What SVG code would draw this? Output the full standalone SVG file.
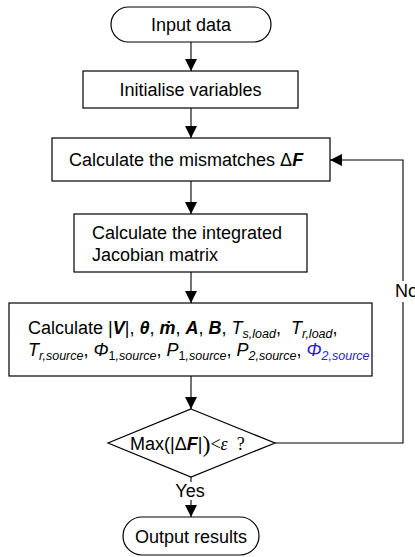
<svg xmlns="http://www.w3.org/2000/svg" width="415" height="557" viewBox="0 0 415 557">
<style>
  .box { fill: #fff; stroke: #000; stroke-width: 1.2; }
  .ln { fill: none; stroke: #000; stroke-width: 1.1; }
  text { font-family: "Liberation Sans", Arial, sans-serif; font-size: 18px; fill: #000; white-space: pre; }
  .c { text-anchor: middle; }
  .bi { font-weight: bold; font-style: italic; }
  .i { font-style: italic; }
  .sub { font-size: 12.5px; }
  .tm { font-family: "Liberation Serif", "Times New Roman", serif; }
  .blue { fill: #2a20d0; }
</style>
<defs>
  <marker id="ah" markerUnits="userSpaceOnUse" markerWidth="12" markerHeight="12" refX="12" refY="6" orient="auto">
    <path d="M0,0 L12,6 L0,12 Z" fill="#000"/>
  </marker>
</defs>

<g id="connectors">
  <line class="ln" x1="191" y1="42" x2="191" y2="71" marker-end="url(#ah)"/>
  <line class="ln" x1="191" y1="108" x2="191" y2="138" marker-end="url(#ah)"/>
  <line class="ln" x1="191" y1="181" x2="191" y2="214" marker-end="url(#ah)"/>
  <line class="ln" x1="191" y1="272" x2="191" y2="303" marker-end="url(#ah)"/>
  <line class="ln" x1="191" y1="376" x2="191" y2="409" marker-end="url(#ah)"/>
  <line class="ln" x1="191" y1="477" x2="191" y2="482"/>
  <line class="ln" x1="191" y1="500" x2="191" y2="517" marker-end="url(#ah)"/>
  <path class="ln" d="M275,443 H403 V302"/>
  <path class="ln" d="M403,281 V160 H330" marker-end="url(#ah)"/>
  <text x="395" y="297">No</text>
  <text class="c" x="190" y="497">Yes</text>
</g>

<g id="input">
  <rect class="box" x="111" y="7" width="160" height="35" rx="17.5"/>
  <text class="c" x="191" y="31">Input data</text>
</g>

<g id="init">
  <rect class="box" x="83" y="71" width="215" height="37"/>
  <text class="c" x="190.5" y="96">Initialise variables</text>
</g>

<g id="mismatch">
  <rect class="box" x="52" y="138" width="278" height="43"/>
  <text x="69" y="166">Calculate the mismatches Δ<tspan class="bi">F</tspan></text>
</g>

<g id="jacobian">
  <rect class="box" x="74" y="214" width="233" height="58"/>
  <text x="92" y="239">Calculate the integrated</text>
  <text x="92" y="261">Jacobian matrix</text>
</g>

<g id="calc">
  <rect class="box" x="9" y="303" width="363" height="73"/>
  <text x="28" y="334">Calculate |<tspan class="bi">V</tspan>|, <tspan class="bi">θ</tspan>, <tspan class="bi">ṁ</tspan>, <tspan class="bi">A</tspan>, <tspan class="bi">B</tspan>, <tspan class="i">T</tspan><tspan class="sub i" dy="4">s,load</tspan><tspan dy="-4">,  </tspan><tspan class="i">T</tspan><tspan class="sub i" dy="4">r,load</tspan><tspan dy="-4">,</tspan></text>
  <text x="28" y="356"><tspan class="i">T</tspan><tspan class="sub i" dy="4">r,source</tspan><tspan dy="-4">, </tspan><tspan class="i">Φ</tspan><tspan class="sub" dy="4">1<tspan class="i">,source</tspan></tspan><tspan dy="-4">, </tspan><tspan class="i">P</tspan><tspan class="sub" dy="4">1<tspan class="i">,source</tspan></tspan><tspan dy="-4">, </tspan><tspan class="i">P</tspan><tspan class="sub i" dy="4">2,source</tspan><tspan dy="-4">, </tspan><tspan class="i blue">Φ</tspan><tspan class="sub i blue" dy="4">2,source</tspan></text>
</g>

<g id="decision">
  <polygon class="box" points="191,409 275,443 191,477 108,443"/>
  <text x="130" y="450">Max(|Δ<tspan class="bi">F</tspan>|<tspan class="tm" style="font-size:24px" dy="2">)</tspan><tspan class="tm" dy="-2">&lt;</tspan><tspan class="tm i">ε</tspan><tspan class="tm">  ?</tspan></text>
</g>

<g id="output">
  <rect class="box" x="123" y="517" width="136" height="38" rx="19"/>
  <text class="c" x="191" y="543">Output results</text>
</g>
</svg>
